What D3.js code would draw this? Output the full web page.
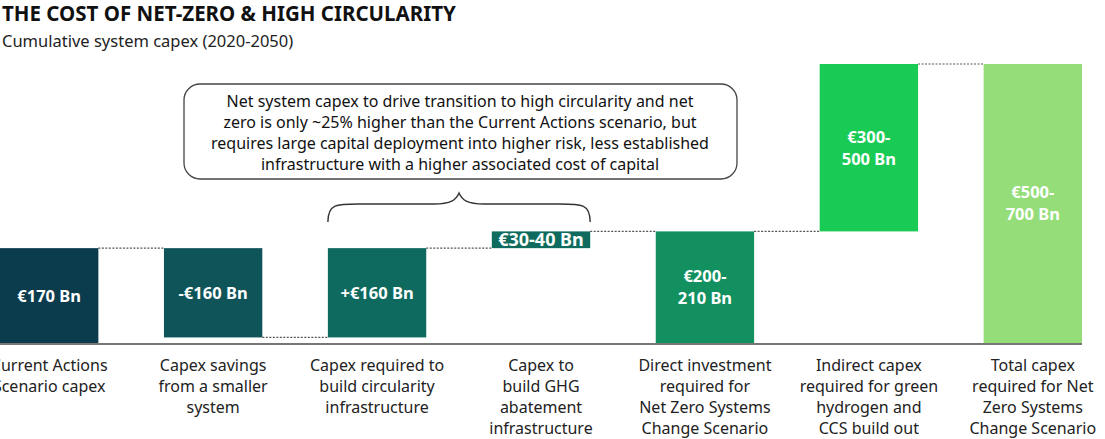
<!DOCTYPE html>
<html>
<head>
<meta charset="utf-8">
<script src="https://cdn.jsdelivr.net/npm/d3@7"></script>
<style>
  body { margin: 0; background: #fff; }
  svg { display: block; font-family: "Noto Sans", Lato, sans-serif; }
</style>
</head>
<body>
<svg id="chart" width="1105" height="439"></svg>
<script>
// categories (label lines) and waterfall steps
const categories = [
  ["Current Actions", "Scenario capex"],
  ["Capex savings", "from a smaller", "system"],
  ["Capex required to", "build circularity", "infrastructure"],
  ["Capex to", "build GHG", "abatement", "infrastructure"],
  ["Direct investment", "required for", "Net Zero Systems", "Change Scenario"],
  ["Indirect capex", "required for green", "hydrogen and", "CCS build out"],
  ["Total capex", "required for Net", "Zero Systems", "Change Scenario"]
]
// change values (lower end of each range), "total" bars start at zero
const steps = [170, -160, 160, 30, 200, 300, 500]
const kinds = ["total", "delta", "delta", "delta", "total", "delta", "total"]
const valueLabels = [["€170 Bn"], ["-€160 Bn"], ["+€160 Bn"], ["€30-40 Bn"], ["€200-", "210 Bn"], ["€300-", "500 Bn"], ["€500-", "700 Bn"]]
const colors = ["#0b3c4d", "#0e5459", "#0e6a5e", "#0e6b5d", "#12905f", "#19cb55", "#94dd79"]
const note = [
  "Net system capex to drive transition to high circularity and net",
  "zero is only ~25% higher than the Current Actions scenario, but",
  "requires large capital deployment into higher risk, less established",
  "infrastructure with a higher associated cost of capital"
]

const svg = d3.select('#chart')

// build waterfall start/end
let running = 0
const bars = steps.map((v, i) => {
  let start, end
  if (kinds[i] === 'total') { start = 0; end = v; running = v }
  else { start = running; end = running + v; running = end }
  return {i, start, end, lo: Math.min(start, end), hi: Math.max(start, end)}
})

const x = d3.scaleBand().domain(d3.range(categories.length)).range([0, 1082]).paddingInner(0.4).paddingOuter(0)
const y = d3.scaleLinear().domain([0, 500]).range([343, 64])

// title
svg.append('text').attr('x', 2).attr('y', 21).text('THE COST OF NET-ZERO & HIGH CIRCULARITY')
  .style('font-weight', 700).style('font-size', '20.5px').attr('fill', '#111')
svg.append('text').attr('x', 2).attr('y', 47).text('Cumulative system capex (2020-2050)')
  .style('font-size', '16.5px').attr('fill', '#222')

// connectors
const conn = []
for (let i = 0; i < bars.length - 1; i++) {
  conn.push({x1: x(i) + x.bandwidth(), x2: x(i + 1), v: bars[i].end})
}
svg.selectAll('line.conn').data(conn).join('line').attr('class', 'conn')
  .attr('x1', d => d.x1).attr('x2', d => d.x2)
  .attr('y1', d => y(d.v)).attr('y2', d => y(d.v))
  .attr('stroke', '#555').attr('stroke-width', 1.2).attr('stroke-dasharray', '2,1.5')

// bars
svg.selectAll('rect.bar').data(bars).join('rect').attr('class', 'bar')
  .attr('x', d => x(d.i)).attr('width', x.bandwidth())
  .attr('y', d => y(d.hi)).attr('height', d => y(d.lo) - y(d.hi))
  .attr('fill', (d, i) => colors[i])

// baseline
svg.append('line').attr('x1', 0).attr('x2', 1082).attr('y1', y(0) + 1).attr('y2', y(0) + 1)
  .attr('stroke', '#777').attr('stroke-width', 2)

// value labels
bars.forEach((d, i) => {
  const lines = valueLabels[i]
  const cy = (y(d.hi) + y(d.lo)) / 2
  const lh = 22
  const fs = i === 3 ? 18 : 16.5
  const t = svg.append('text').attr('text-anchor', 'middle').attr('fill', '#fff')
    .style('font-weight', 700).style('font-size', fs + 'px')
  lines.forEach((l, k) => {
    t.append('tspan').attr('x', x(i) + x.bandwidth() / 2)
      .attr('y', cy + (k - (lines.length - 1) / 2) * lh + fs * 0.36).text(l)
  })
})

// category labels
categories.forEach((lines, i) => {
  const t = svg.append('text').attr('text-anchor', 'middle').attr('fill', '#222').style('font-size', '16px')
  lines.forEach((l, k) => {
    t.append('tspan').attr('x', x(i) + x.bandwidth() / 2).attr('y', 371 + k * 21).text(l)
  })
})

// annotation box
svg.append('rect').attr('x', 184).attr('y', 84).attr('width', 553).attr('height', 95).attr('rx', 16)
  .attr('fill', '#fff').attr('stroke', '#444').attr('stroke-width', 1.3)
const nt = svg.append('text').attr('text-anchor', 'middle').attr('fill', '#111').style('font-size', '16px')
note.forEach((l, k) => nt.append('tspan').attr('x', 460).attr('y', 107 + k * 21).text(l))

// brace over circularity + GHG bars
const bx0 = x(2), bx1 = x(3) + x.bandwidth(), bm = (bx0 + bx1) / 2
const by0 = 222, by1 = 193
const brace = d3.path()
brace.moveTo(bx0, by0)
brace.bezierCurveTo(bx0, by0 - 20, bx0 + 10, by0 - 18, bx0 + 40, by0 - 18)
brace.lineTo(bm - 25, by0 - 18)
brace.bezierCurveTo(bm - 8, by0 - 18, bm - 3, by0 - 22, bm, by1)
brace.bezierCurveTo(bm + 3, by0 - 22, bm + 8, by0 - 18, bm + 25, by0 - 18)
brace.lineTo(bx1 - 40, by0 - 18)
brace.bezierCurveTo(bx1 - 10, by0 - 18, bx1, by0 - 20, bx1, by0)
svg.append('path').attr('d', brace.toString()).attr('fill', 'none').attr('stroke', '#333').attr('stroke-width', 1.4)
</script>
</body>
</html>
